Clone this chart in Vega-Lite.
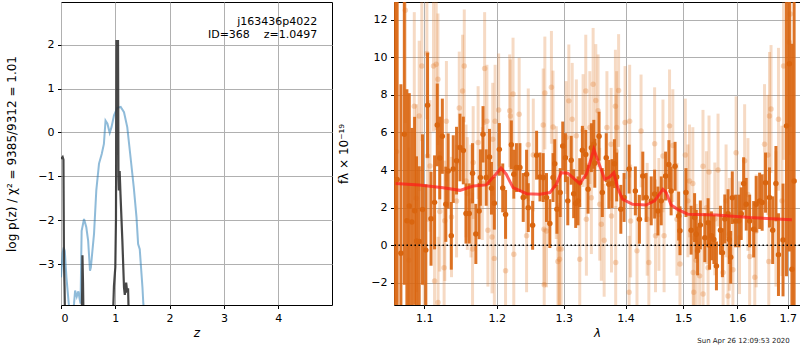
{
  "$schema": "https://vega.github.io/schema/vega-lite/v6.json",
  "padding": {"left": 5, "top": 1, "right": 2, "bottom": 0},
  "spacing": 4,
  "config": {
    "font": "DejaVu Sans",
    "view": {"stroke": "black", "strokeWidth": 1},
    "axis": {
      "grid": true, "gridColor": "#b0b0b0", "gridWidth": 1,
      "domain": false, "ticks": true, "tickColor": "black", "tickSize": 3.5,
      "labelPadding": 3.5, "labelColor": "black", "labelFontSize": 11,
      "titleFontSize": 12, "titleFontWeight": "normal", "titleColor": "black"
    }
  },
  "datasets": {
    "blue": [
      {"z":0.0,"p":-3.3},{"z":0.03,"p":-2.75},{"z":0.05,"p":-2.62},{"z":0.07,"p":-2.7},{"z":0.1,"p":-3.3},{"z":0.15,"p":-4.0},{"z":0.2,"p":-4.3},
      {"z":0.24,"p":-3.9},{"z":0.26,"p":-3.6},{"z":0.29,"p":-3.74},{"z":0.32,"p":-3.62},{"z":0.34,"p":-3.77},{"z":0.36,"p":-3.9},
      {"z":0.38,"p":-2.24},{"z":0.424,"p":-1.97},{"z":0.466,"p":-2.16},{"z":0.5,"p":-2.47},{"z":0.534,"p":-3.15},{"z":0.55,"p":-3.07},
      {"z":0.608,"p":-2.31},{"z":0.65,"p":-1.32},{"z":0.7,"p":-0.71},{"z":0.75,"p":-0.49},{"z":0.79,"p":-0.26},{"z":0.82,"p":0.27},
      {"z":0.855,"p":0.2},{"z":0.897,"p":-0.01},{"z":0.93,"p":0.12},{"z":0.976,"p":0.39},{"z":1.037,"p":0.56},{"z":1.099,"p":0.58},
      {"z":1.16,"p":0.46},{"z":1.22,"p":0.12},{"z":1.28,"p":-0.56},{"z":1.34,"p":-1.25},{"z":1.39,"p":-1.93},{"z":1.42,"p":-2.54},
      {"z":1.45,"p":-2.66},{"z":1.5,"p":-3.53},{"z":1.516,"p":-3.9},{"z":1.55,"p":-4.3}
    ],
    "black": [
      {"z":0.0,"p":-0.6},{"z":0.015,"p":-0.58},{"z":0.03,"p":-0.56},{"z":0.045,"p":-0.62},{"z":0.055,"p":-3.0},{"z":0.065,"p":-3.5},{"z":0.075,"p":-4.3},
      {"z":0.38,"p":-4.3},{"z":0.39,"p":-3.6},{"z":0.395,"p":-2.8},{"z":0.405,"p":-3.4},{"z":0.415,"p":-4.3},
      {"z":0.955,"p":-4.3},{"z":0.975,"p":-3.5},{"z":1.0,"p":-3.07},{"z":1.012,"p":-2.0},{"z":1.022,"p":2.08},{"z":1.05,"p":2.08},
      {"z":1.058,"p":-1.0},{"z":1.065,"p":-1.32},{"z":1.08,"p":-0.88},{"z":1.095,"p":-1.4},{"z":1.13,"p":-2.47},{"z":1.16,"p":-3.53},
      {"z":1.175,"p":-3.7},{"z":1.2,"p":-3.42},{"z":1.22,"p":-3.65},{"z":1.235,"p":-3.55},{"z":1.25,"p":-4.3}
    ],
    "model": [
      {"w":1.063,"f":3.28},{"w":1.0935,"f":3.21},{"w":1.1252,"f":3.06},{"w":1.1482,"f":2.92},{"w":1.1665,"f":3.15},{"w":1.1849,"f":3.21},
      {"w":1.1986,"f":3.78},{"w":1.206,"f":4.1},{"w":1.2135,"f":3.78},{"w":1.2235,"f":3.06},{"w":1.2435,"f":2.74},{"w":1.2636,"f":2.71},
      {"w":1.2786,"f":2.8},{"w":1.2885,"f":3.24},{"w":1.296,"f":3.86},{"w":1.3064,"f":3.83},{"w":1.3145,"f":3.6},{"w":1.3252,"f":3.28},
      {"w":1.3358,"f":3.78},{"w":1.3438,"f":4.66},{"w":1.3477,"f":5.1},{"w":1.3546,"f":4.48},{"w":1.3653,"f":3.51},{"w":1.3734,"f":3.63},
      {"w":1.3803,"f":3.86},{"w":1.3867,"f":3.06},{"w":1.3947,"f":2.45},{"w":1.4117,"f":2.18},{"w":1.4348,"f":2.14},{"w":1.4495,"f":2.36},
      {"w":1.4639,"f":2.98},{"w":1.4697,"f":2.8},{"w":1.4784,"f":2.14},{"w":1.4901,"f":1.91},{"w":1.508,"f":1.65},{"w":1.5608,"f":1.61},
      {"w":1.6241,"f":1.47},{"w":1.7084,"f":1.36}
    ],
    "dark": [
      {"w":1.062,"f":2.0,"e":12},{"w":1.065,"f":3.5,"e":11},{"w":1.0698,"f":-0.43,"e":9},{"w":1.0742,"f":5.9,"e":8},{"w":1.0775,"f":1.3,"e":7},
      {"w":1.0806,"f":2.09,"e":6},{"w":1.084,"f":1.24,"e":5},{"w":1.0875,"f":1.83,"e":5},{"w":1.09,"f":0.23,"e":4.5},{"w":1.0935,"f":0.2,"e":4},
      {"w":1.0978,"f":1.9,"e":4},{"w":1.1022,"f":-0.26,"e":3.5},{"w":1.1045,"f":7.45,"e":2.8},{"w":1.1091,"f":1.41,"e":2.5},{"w":1.1138,"f":2.28,"e":2.5},
      {"w":1.1174,"f":6.4,"e":2.2},{"w":1.1207,"f":4.64,"e":2.2},{"w":1.1242,"f":5.8,"e":2},{"w":1.1289,"f":2.18,"e":2},{"w":1.1321,"f":3.95,"e":2},
      {"w":1.1363,"f":0.5,"e":1.8},{"w":1.139,"f":4.05,"e":1.8},{"w":1.1435,"f":4.5,"e":1.8},{"w":1.1482,"f":5.2,"e":1.8},{"w":1.1528,"f":5.04,"e":1.8},
      {"w":1.1565,"f":1.69,"e":1.6},{"w":1.161,"f":1.69,"e":1.6},{"w":1.1656,"f":3.83,"e":1.6},{"w":1.1702,"f":0.6,"e":1.6},{"w":1.1748,"f":1.82,"e":1.5},
      {"w":1.1766,"f":3.6,"e":1.5},{"w":1.1803,"f":5.9,"e":1.5},{"w":1.1848,"f":3.6,"e":1.5},{"w":1.1895,"f":4.69,"e":1.5},{"w":1.1923,"f":3.03,"e":1.4},
      {"w":1.1964,"f":2.23,"e":1.4},
      {"w":1.2036,"f":5.1,"e":1.4},{"w":1.2085,"f":3.05,"e":1.3},{"w":1.2126,"f":1.64,"e":1.3},{"w":1.221,"f":5.34,"e":1.3},{"w":1.2246,"f":3.78,"e":1.3},
      {"w":1.2285,"f":4.13,"e":1.3},{"w":1.2336,"f":4.13,"e":1.3},{"w":1.2385,"f":2.54,"e":1.3},{"w":1.2435,"f":3.78,"e":1.3},{"w":1.246,"f":2.0,"e":1.3},
      {"w":1.2525,"f":1.06,"e":1.3},{"w":1.2585,"f":4.79,"e":1.3},{"w":1.2636,"f":3.63,"e":1.3},{"w":1.2685,"f":3.6,"e":1.3},{"w":1.2735,"f":2.54,"e":1.3},
      {"w":1.2786,"f":1.15,"e":1.3},{"w":1.2835,"f":3.6,"e":1.3},{"w":1.2861,"f":4.34,"e":1.3},{"w":1.2895,"f":1.91,"e":1.3},{"w":1.2945,"f":2.8,"e":1.3},
      {"w":1.2985,"f":5.28,"e":1.3},{"w":1.3027,"f":4.66,"e":1.3},{"w":1.3064,"f":2.36,"e":1.3},{"w":1.3117,"f":4.52,"e":1.3},{"w":1.3156,"f":2.74,"e":1.3},
      {"w":1.3188,"f":2.22,"e":1.3},{"w":1.3225,"f":2.36,"e":1.3},{"w":1.3252,"f":3.33,"e":1.3},{"w":1.3294,"f":5.05,"e":1.3},{"w":1.3348,"f":4.83,"e":1.3},
      {"w":1.3385,"f":2.98,"e":1.3},{"w":1.3438,"f":5.19,"e":1.3},{"w":1.3477,"f":5.37,"e":1.3},
      {"w":1.3493,"f":4.36,"e":1.3},{"w":1.3562,"f":5.8,"e":1.3},{"w":1.3615,"f":2.8,"e":1.3},{"w":1.3679,"f":4.66,"e":1.3},{"w":1.3722,"f":3.24,"e":1.3},
      {"w":1.3775,"f":3.28,"e":1.3},{"w":1.3814,"f":4.34,"e":1.3},{"w":1.3851,"f":3.63,"e":1.3},{"w":1.392,"f":1.91,"e":1.3},{"w":1.3974,"f":2.54,"e":1.3},
      {"w":1.4059,"f":4.05,"e":1.3},{"w":1.4164,"f":2.89,"e":1.3},{"w":1.4233,"f":1.38,"e":1.3},{"w":1.4291,"f":3.68,"e":1.3},{"w":1.4348,"f":2.54,"e":1.3},
      {"w":1.4436,"f":2.36,"e":1.3},{"w":1.4495,"f":2.72,"e":1.3},{"w":1.4552,"f":1.82,"e":1.3},{"w":1.461,"f":2.36,"e":1.3},{"w":1.4686,"f":3.68,"e":1.3},
      {"w":1.4744,"f":4.29,"e":1.3},{"w":1.4784,"f":2.89,"e":1.3},{"w":1.4854,"f":4.2,"e":1.3},{"w":1.4918,"f":1.55,"e":1.3},{"w":1.4941,"f":0.77,"e":1.3},
      {"w":1.5049,"f":2.8,"e":1.3},{"w":1.5142,"f":0.8,"e":1.3},{"w":1.5205,"f":1.47,"e":1.3},{"w":1.526,"f":-0.3,"e":1.3},
      {"w":1.5235,"f":0.58,"e":1.3},{"w":1.531,"f":1.08,"e":1.3},{"w":1.5392,"f":0.4,"e":1.3},{"w":1.5453,"f":1.2,"e":1.3},{"w":1.548,"f":0.0,"e":1.3},
      {"w":1.5515,"f":0.5,"e":1.3},{"w":1.556,"f":0.3,"e":1.3},{"w":1.5608,"f":-1.1,"e":1.3},{"w":1.5683,"f":0.8,"e":1.3},{"w":1.572,"f":-0.4,"e":1.3},
      {"w":1.5765,"f":1.4,"e":1.3},{"w":1.5826,"f":1.68,"e":1.3},{"w":1.585,"f":0.3,"e":1.3},{"w":1.5877,"f":-0.64,"e":1.4},{"w":1.5907,"f":2.53,"e":1.4},
      {"w":1.597,"f":1.29,"e":1.4},{"w":1.6033,"f":1.29,"e":1.4},{"w":1.6078,"f":1.68,"e":1.4},{"w":1.6124,"f":3.28,"e":1.4},{"w":1.6175,"f":2.18,"e":1.4},
      {"w":1.6241,"f":1.29,"e":1.4},{"w":1.6319,"f":0.85,"e":1.5},{"w":1.6369,"f":2.18,"e":1.5},{"w":1.6436,"f":2.36,"e":1.5},{"w":1.6486,"f":2.27,"e":1.5},
      {"w":1.6553,"f":3.33,"e":1.6},{"w":1.6631,"f":2.54,"e":1.6},{"w":1.6695,"f":0.8,"e":1.8},{"w":1.676,"f":3.28,"e":2},{"w":1.6811,"f":-0.5,"e":2.2},
      {"w":1.6903,"f":0.28,"e":3},{"w":1.6973,"f":6.35,"e":8},{"w":1.7032,"f":9.66,"e":10},{"w":1.7084,"f":-1.28,"e":12},{"w":1.7129,"f":3.42,"e":12}
    ],
    "light": [
      {"w":1.0643,"f":4.98,"e":8},{"w":1.0755,"f":12.5,"e":6},{"w":1.08,"f":-0.8,"e":6},{"w":1.0871,"f":7.4,"e":5},{"w":1.09,"f":2.5,"e":5},
      {"w":1.0935,"f":6.88,"e":4},{"w":1.0969,"f":9.54,"e":4},{"w":1.1,"f":-2.0,"e":4},{"w":1.1036,"f":10.2,"e":3.5},{"w":1.1045,"f":4.75,"e":3.5},
      {"w":1.1077,"f":4.22,"e":3.5},{"w":1.1124,"f":9.54,"e":3.5},{"w":1.1138,"f":-1.9,"e":3.5},{"w":1.116,"f":9.63,"e":3.5},{"w":1.1183,"f":8.83,"e":3.5},
      {"w":1.1185,"f":-3.05,"e":3.5},{"w":1.1207,"f":1.8,"e":3.2},{"w":1.1266,"f":-1.2,"e":3.2},{"w":1.1275,"f":1.3,"e":3.2},{"w":1.1297,"f":6.6,"e":3.2},
      {"w":1.1366,"f":1.5,"e":3.2},{"w":1.1435,"f":2.35,"e":3},{"w":1.1472,"f":7.3,"e":3},{"w":1.1518,"f":8.2,"e":3},{"w":1.1541,"f":9.54,"e":3},
      {"w":1.1565,"f":3.42,"e":3},{"w":1.1583,"f":2.75,"e":3},{"w":1.1634,"f":2.35,"e":3},{"w":1.1656,"f":-0.2,"e":3},{"w":1.1665,"f":4.4,"e":3},
      {"w":1.1734,"f":5.46,"e":3},{"w":1.1793,"f":3.28,"e":3},{"w":1.1826,"f":9.4,"e":3},{"w":1.1858,"f":6.6,"e":3},{"w":1.1872,"f":0.8,"e":3},
      {"w":1.1931,"f":0.44,"e":3},{"w":1.1941,"f":5.64,"e":3},{"w":1.1964,"f":-0.7,"e":3},{"w":1.1975,"f":6.6,"e":3},
      {"w":1.2026,"f":7.2,"e":3},{"w":1.2126,"f":-1.36,"e":3},{"w":1.2186,"f":7.15,"e":3},{"w":1.2195,"f":6.88,"e":3},{"w":1.2235,"f":8.04,"e":3},
      {"w":1.2246,"f":-0.48,"e":3},{"w":1.2325,"f":6.97,"e":3},{"w":1.2435,"f":0.5,"e":3},{"w":1.246,"f":5.34,"e":3},{"w":1.2535,"f":4.8,"e":3},
      {"w":1.2685,"f":6.4,"e":3},{"w":1.2696,"f":0.85,"e":3},{"w":1.27,"f":-2.1,"e":3},{"w":1.271,"f":8.1,"e":3},{"w":1.2735,"f":0.76,"e":3},
      {"w":1.281,"f":8.4,"e":3},{"w":1.2835,"f":6.29,"e":3},{"w":1.2885,"f":3.33,"e":3},{"w":1.291,"f":-0.87,"e":3},{"w":1.2925,"f":-0.2,"e":3},
      {"w":1.2936,"f":-0.75,"e":3},{"w":1.296,"f":-0.2,"e":3},{"w":1.3037,"f":5.73,"e":3},{"w":1.308,"f":7.68,"e":3},{"w":1.3133,"f":6.7,"e":3},
      {"w":1.3198,"f":5.82,"e":3},{"w":1.3252,"f":-0.75,"e":3},{"w":1.3305,"f":6.1,"e":3},{"w":1.3348,"f":8.2,"e":3},{"w":1.3358,"f":1.38,"e":3},
      {"w":1.3413,"f":6.26,"e":3},{"w":1.3438,"f":2.53,"e":3},{"w":1.3466,"f":8.56,"e":3},{"w":1.3509,"f":7.7,"e":3},
      {"w":1.3546,"f":7.15,"e":3},{"w":1.3573,"f":2.18,"e":3},{"w":1.3599,"f":1.11,"e":3},{"w":1.3645,"f":0.26,"e":3},{"w":1.369,"f":6.26,"e":3},
      {"w":1.3759,"f":5.37,"e":3},{"w":1.3765,"f":1.55,"e":3},{"w":1.383,"f":7.4,"e":3},{"w":1.3835,"f":-0.92,"e":3},{"w":1.384,"f":5.0,"e":3},
      {"w":1.3851,"f":6.26,"e":3},{"w":1.3883,"f":8.23,"e":3},{"w":1.3991,"f":6.53,"e":3},{"w":1.4059,"f":-2.5,"e":3},{"w":1.4068,"f":6.6,"e":3},
      {"w":1.4084,"f":1.29,"e":3},{"w":1.4192,"f":-0.3,"e":3},{"w":1.4261,"f":6.08,"e":3},{"w":1.4366,"f":1.38,"e":3},{"w":1.4395,"f":-0.92,"e":3},
      {"w":1.4495,"f":5.4,"e":3},{"w":1.451,"f":0.5,"e":3},{"w":1.4569,"f":1.64,"e":3},{"w":1.464,"f":4.75,"e":3},{"w":1.466,"f":0.5,"e":3},
      {"w":1.4756,"f":6.35,"e":3},{"w":1.4814,"f":5.3,"e":3},{"w":1.4887,"f":1.38,"e":3},{"w":1.4941,"f":-1.0,"e":3},{"w":1.5037,"f":4.8,"e":3},
      {"w":1.5084,"f":2.36,"e":3},{"w":1.5112,"f":3.42,"e":3},{"w":1.5173,"f":3.28,"e":3},{"w":1.518,"f":-1.45,"e":3},{"w":1.519,"f":-2.5,"e":3},
      {"w":1.5235,"f":-0.8,"e":3},{"w":1.5297,"f":-1.63,"e":3},{"w":1.5359,"f":4.2,"e":3},{"w":1.536,"f":-2.6,"e":3},{"w":1.5422,"f":2.0,"e":3},
      {"w":1.5453,"f":-1.2,"e":3},{"w":1.547,"f":3.9,"e":3},{"w":1.5578,"f":1.4,"e":3},{"w":1.5638,"f":4.0,"e":3},{"w":1.5733,"f":-1.45,"e":3},
      {"w":1.5789,"f":2.36,"e":3},{"w":1.5826,"f":-2.7,"e":3},{"w":1.5852,"f":0.58,"e":3},{"w":1.5919,"f":-1.3,"e":3},{"w":1.598,"f":4.92,"e":3},
      {"w":1.6045,"f":0.4,"e":3},{"w":1.6144,"f":4.5,"e":3},{"w":1.6208,"f":2.7,"e":3},{"w":1.6241,"f":-0.6,"e":3},{"w":1.6341,"f":-1.7,"e":3},
      {"w":1.6369,"f":0.76,"e":3},{"w":1.6533,"f":5.37,"e":3.2},{"w":1.6599,"f":4.8,"e":3.2},{"w":1.6617,"f":-0.87,"e":3.2},{"w":1.6631,"f":6.88,"e":3.4},
      {"w":1.6662,"f":7.25,"e":3.4},{"w":1.676,"f":1.4,"e":3.6},{"w":1.6811,"f":6.7,"e":3.8},{"w":1.6881,"f":2.36,"e":4},{"w":1.6914,"f":9.54,"e":5},
      {"w":1.7031,"f":10.8,"e":6},{"w":1.7051,"f":12.3,"e":6}
    ]
  },
  "hconcat": [
    {
      "width": 271,
      "height": 303,
      "layer": [
        {
          "data": {"name": "blue"},
          "mark": {"type": "line", "color": "#1f77b4", "opacity": 0.5, "strokeWidth": 2, "clip": true},
          "encoding": {
            "x": {"field": "z", "type": "quantitative", "title": "z", "scale": {"domain": [0, 4.99], "nice": false},
                  "axis": {"values": [0, 1, 2, 3, 4], "titleFontStyle": "italic"}},
            "y": {"field": "p", "type": "quantitative", "title": "log p(z) / χ² = 9385/9312 = 1.01", "scale": {"domain": [-3.93, 2.97], "nice": false},
                  "axis": {"values": [-3, -2, -1, 0, 1, 2], "titlePadding": 19}}
          }
        },
        {
          "data": {"name": "black"},
          "mark": {"type": "line", "color": "#333333", "opacity": 0.9, "strokeWidth": 2.2, "clip": true},
          "encoding": {
            "x": {"field": "z", "type": "quantitative", "title": "z"},
            "y": {"field": "p", "type": "quantitative", "title": "log p(z) / χ² = 9385/9312 = 1.01"}
          }
        },
        {
          "data": {"values": [{}]},
          "mark": {"type": "text", "align": "right", "baseline": "alphabetic", "fontSize": 11, "color": "black"},
          "encoding": {"x": {"datum": 4.72}, "y": {"datum": 2.44}, "text": {"value": "j163436p4022"}}
        },
        {
          "data": {"values": [{}]},
          "mark": {"type": "text", "align": "right", "baseline": "alphabetic", "fontSize": 11, "color": "black"},
          "encoding": {"x": {"datum": 4.72}, "y": {"datum": 2.15}, "text": {"value": "ID=368\u00a0\u00a0\u00a0\u00a0z=1.0497"}}
        }
      ]
    },
    {
      "width": 406,
      "height": 303,
      "layer": [
        {
          "data": {"name": "light"},
          "mark": {"type": "errorbar", "color": "#e07a2a", "opacity": 0.28, "thickness": 3, "clip": true},
          "encoding": {
            "x": {"field": "w", "type": "quantitative", "title": "λ", "scale": {"type": "log", "domain": [1.061, 1.725], "nice": false},
                  "axis": {"values": [1.1, 1.2, 1.3, 1.4, 1.5, 1.6, 1.7], "format": ".1f", "titleFontStyle": "italic"}},
            "y": {"field": "f", "type": "quantitative", "title": "fλ × 10⁻¹⁹", "scale": {"domain": [-3.18, 12.94], "nice": false},
                  "axis": {"values": [-2, 0, 2, 4, 6, 8, 10, 12], "titlePadding": 20}},
            "yError": {"field": "e"}
          }
        },
        {
          "data": {"name": "light"},
          "mark": {"type": "circle", "color": "#e07a2a", "opacity": 0.3, "size": 30, "clip": true},
          "encoding": {
            "x": {"field": "w", "type": "quantitative", "title": "λ"},
            "y": {"field": "f", "type": "quantitative", "title": "fλ × 10⁻¹⁹"}
          }
        },
        {
          "data": {"name": "dark"},
          "mark": {"type": "errorbar", "color": "#d9650f", "opacity": 0.9, "thickness": 3, "clip": true},
          "encoding": {
            "x": {"field": "w", "type": "quantitative", "title": "λ"},
            "y": {"field": "f", "type": "quantitative", "title": "fλ × 10⁻¹⁹"},
            "yError": {"field": "e"}
          }
        },
        {
          "data": {"name": "dark"},
          "mark": {"type": "circle", "color": "#d9650f", "opacity": 1, "size": 30, "clip": true},
          "encoding": {
            "x": {"field": "w", "type": "quantitative", "title": "λ"},
            "y": {"field": "f", "type": "quantitative", "title": "fλ × 10⁻¹⁹"}
          }
        },
        {
          "data": {"name": "model"},
          "mark": {"type": "line", "color": "#ff1a1a", "opacity": 0.7, "strokeWidth": 3, "clip": true},
          "encoding": {
            "x": {"field": "w", "type": "quantitative", "title": "λ"},
            "y": {"field": "f", "type": "quantitative", "title": "fλ × 10⁻¹⁹"}
          }
        },
        {
          "data": {"values": [{}]},
          "mark": {"type": "rule", "color": "black", "strokeDash": [1.5, 2.5], "strokeWidth": 1.6},
          "encoding": {"y": {"datum": 0}}
        },
        {
          "data": {"values": [{}]},
          "mark": {"type": "text", "align": "right", "baseline": "middle", "fontSize": 7, "color": "#222222", "clip": false},
          "encoding": {"x": {"datum": 1.704}, "y": {"datum": -5.1}, "text": {"value": "Sun Apr 26 12:09:53 2020"}}
        }
      ]
    }
  ]
}
